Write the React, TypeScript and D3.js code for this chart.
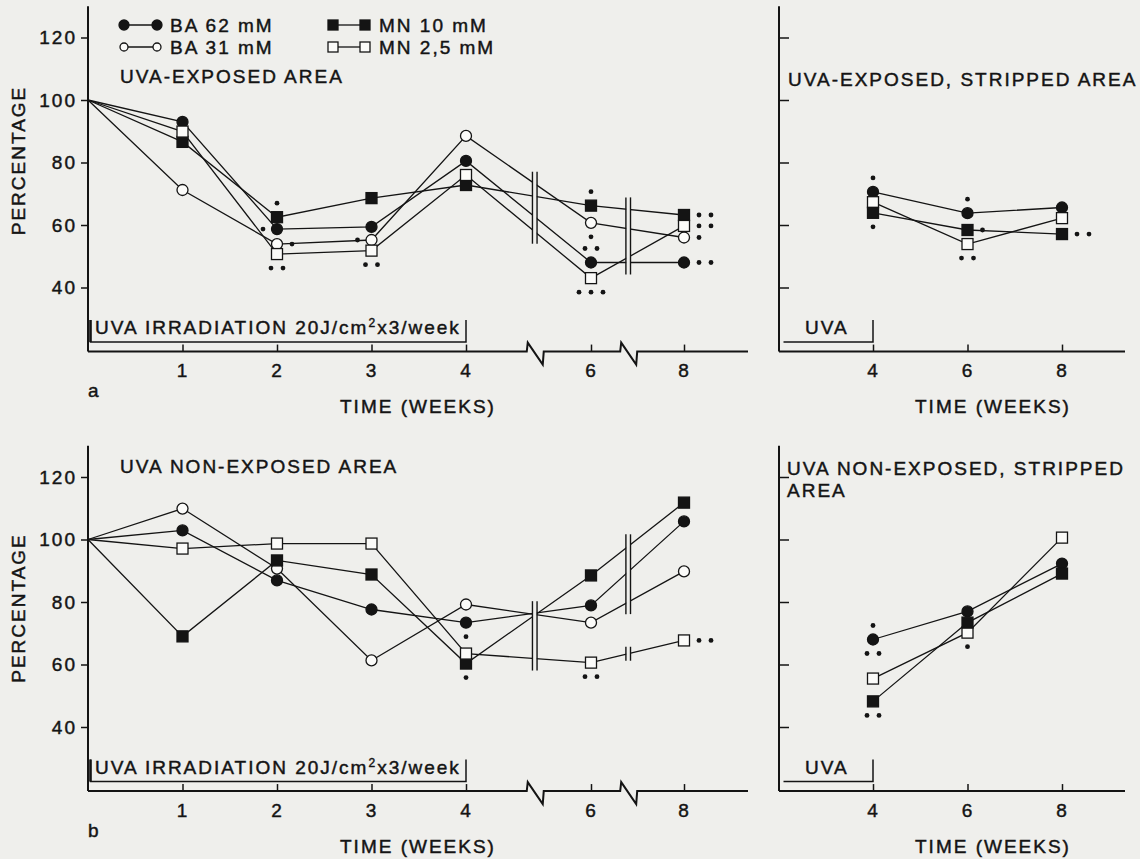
import { useRef, useEffect } from "react";
import * as d3 from "d3";

const weeks = [0, 1, 2, 3, 4, 6, 8];
const strippedWeeks = [4, 6, 8];
const yTicks = [40, 60, 80, 100, 120];
const xTicksLeft = [1, 2, 3, 4, 6, 8];
const xTicksRight = [4, 6, 8];
const axisBreaks = [5.1, 6.8];

const seriesNames = ["BA 62 mM", "BA 31 mM", "MN 10 mM", "MN 2,5 mM"];

// a: UVA-exposed area (% of value before exposure)
const ba62Exposed = [100, 93, 58.7, 59.4, 80.5, 48, 48];
const ba31Exposed = [100, 71.2, 53.9, 55.2, 88.5, 60.7, 56];
const mn10Exposed = [100, 86.6, 62.5, 68.6, 72.8, 66.2, 63.2];
const mn25Exposed = [100, 89.9, 50.7, 51.8, 76, 43, 59.7];

// a: UVA-exposed, stripped area (weeks 4, 6, 8)
const ba62ExposedStripped = [70.6, 63.8, 65.6];
const mn10ExposedStripped = [63.9, 58.4, 57.1];
const mn25ExposedStripped = [67.3, 53.9, 62.2];

// b: UVA non-exposed area
const ba62NonExposed = [100, 102.9, 86.9, 77.6, 73.4, 78.9, 105.8];
const ba31NonExposed = [100, 109.9, 90.7, 61.3, 79.2, 73.4, 89.8];
const mn10NonExposed = [100, 69, 93.3, 88.8, 60.3, 88.5, 111.8];
const mn25NonExposed = [100, 97.1, 98.7, 98.7, 63.5, 60.6, 67.7];

// b: UVA non-exposed, stripped area (weeks 4, 6, 8)
const ba62NonStripped = [68, 77, 92.3];
const mn10NonStripped = [48.2, 73.4, 89.1];
const mn25NonStripped = [55.5, 70.2, 100.6];

// significance: [series, week, number of asterisks, side]
const starsExposed = [
  ["MN 10 mM", 2, 1, "above"],
  ["BA 62 mM", 2, 1, "left"],
  ["BA 31 mM", 2, 1, "right"],
  ["MN 2,5 mM", 2, 2, "below"],
  ["BA 31 mM", 3, 1, "left"],
  ["MN 2,5 mM", 3, 2, "below"],
  ["MN 10 mM", 6, 1, "above"],
  ["BA 31 mM", 6, 1, "below"],
  ["BA 62 mM", 6, 2, "above"],
  ["MN 2,5 mM", 6, 3, "below"],
  ["MN 10 mM", 8, 2, "right"],
  ["MN 2,5 mM", 8, 2, "right"],
  ["BA 31 mM", 8, 1, "right"],
  ["BA 62 mM", 8, 2, "right"],
];
const starsExposedStripped = [
  ["BA 62 mM", 4, 1, "above"],
  ["MN 10 mM", 4, 1, "below"],
  ["BA 62 mM", 6, 1, "above"],
  ["MN 10 mM", 6, 1, "right"],
  ["MN 2,5 mM", 6, 2, "below"],
  ["MN 10 mM", 8, 2, "right"],
];
const starsNonExposed = [
  ["BA 62 mM", 4, 1, "below"],
  ["MN 10 mM", 4, 1, "below"],
  ["MN 2,5 mM", 6, 2, "below"],
  ["MN 2,5 mM", 8, 2, "right"],
];
const starsNonStripped = [
  ["BA 62 mM", 4, 1, "above"],
  ["BA 62 mM", 4, 2, "below"],
  ["MN 10 mM", 4, 2, "below"],
  ["MN 2,5 mM", 6, 1, "below"],
];

export default function App() {
  const ref = useRef<SVGSVGElement>(null);

  function init() {
    const svg = d3.select(ref.current);
    svg.selectAll("*").remove();

    const W = 1140,
      H = 859;
    const bg = "#efefec";
    const ink = "#141414";
    const font = "'Liberation Sans', Arial, Helvetica, sans-serif";
    const fs = 19;
    const ls = 2;

    svg.append("rect").attr("width", W).attr("height", H).attr("fill", bg);

    const xLeft = d3.scaleLinear().domain([0, 4, 6, 8]).range([88, 466, 591, 684]);
    const xRight = d3.scaleLinear().domain([4, 8]).range([873, 1062]);

    const marker = {
      "BA 62 mM": { shape: "circle", filled: true },
      "BA 31 mM": { shape: "circle", filled: false },
      "MN 10 mM": { shape: "square", filled: true },
      "MN 2,5 mM": { shape: "square", filled: false },
    };

    // printed-looking text: slight stroke to thicken the glyphs
    const inkText = (sel) =>
      sel
        .attr("font-family", font)
        .attr("font-size", fs)
        .attr("letter-spacing", ls)
        .attr("fill", ink)
        .attr("stroke", ink)
        .attr("stroke-width", 0.45);

    const text = (g, x, y, s, anchor = "start") =>
      g
        .append("text")
        .attr("x", x)
        .attr("y", y)
        .attr("text-anchor", anchor)
        .call(inkText)
        .text(s);

    const drawMarker = (g, name, cx, cy, size) => {
      const m = marker[name];
      const fill = m.filled ? ink : "#fbfbf9";
      if (m.shape === "circle") {
        g.append("circle")
          .attr("cx", cx)
          .attr("cy", cy)
          .attr("r", size / 2)
          .attr("fill", fill)
          .attr("stroke", ink)
          .attr("stroke-width", 1.3);
      } else {
        g.append("rect")
          .attr("x", cx - size / 2)
          .attr("y", cy - size / 2)
          .attr("width", size)
          .attr("height", size)
          .attr("fill", fill)
          .attr("stroke", ink)
          .attr("stroke-width", 1.3);
      }
    };

    const panels = [
      {
        off: 0,
        x: xLeft,
        xs: weeks,
        left: true,
        series: [
          ["BA 62 mM", ba62Exposed],
          ["BA 31 mM", ba31Exposed],
          ["MN 10 mM", mn10Exposed],
          ["MN 2,5 mM", mn25Exposed],
        ],
        stars: starsExposed,
        title: ["UVA-EXPOSED AREA"],
        titleX: 120,
        titleY: 83,
        labelY: 160.5,
        letter: "a",
        legend: true,
      },
      {
        off: 0,
        x: xRight,
        xs: strippedWeeks,
        left: false,
        series: [
          ["BA 62 mM", ba62ExposedStripped],
          ["MN 2,5 mM", mn25ExposedStripped],
          ["MN 10 mM", mn10ExposedStripped],
        ],
        stars: starsExposedStripped,
        title: ["UVA-EXPOSED, STRIPPED AREA"],
        titleX: 788,
        titleY: 86,
      },
      {
        off: 439.5,
        x: xLeft,
        xs: weeks,
        left: true,
        series: [
          ["BA 62 mM", ba62NonExposed],
          ["BA 31 mM", ba31NonExposed],
          ["MN 10 mM", mn10NonExposed],
          ["MN 2,5 mM", mn25NonExposed],
        ],
        stars: starsNonExposed,
        title: ["UVA NON-EXPOSED AREA"],
        titleX: 120,
        titleY: 33.5,
        labelY: 168.5,
        letter: "b",
      },
      {
        off: 439.5,
        x: xRight,
        xs: strippedWeeks,
        left: false,
        series: [
          ["BA 62 mM", ba62NonStripped],
          ["MN 2,5 mM", mn25NonStripped],
          ["MN 10 mM", mn10NonStripped],
        ],
        stars: starsNonStripped,
        title: ["UVA NON-EXPOSED, STRIPPED", "AREA"],
        titleX: 787,
        titleY: 35.5,
      },
    ];

    panels.forEach((p) => {
      const g = svg.append("g").attr("transform", `translate(0, ${p.off})`);
      const x = p.x;
      const y = d3.scaleLinear().domain([20, 120]).range([350, 37.5]);
      const x0 = p.left ? x(0) : x(2) + 0.5;
      const axisY = y(19.5);
      const axisEnd = p.left ? 748 : 1125;

      // y axis
      g.append("line")
        .attr("x1", x0)
        .attr("x2", x0)
        .attr("y1", y(130))
        .attr("y2", axisY)
        .attr("stroke", ink)
        .attr("stroke-width", 2);
      const yAxis = p.left
        ? d3.axisLeft(y).tickValues(yTicks).tickSize(7).tickPadding(4)
        : d3.axisRight(y).tickValues(yTicks).tickSize(10).tickFormat(() => "");
      const ya = g.append("g").attr("transform", `translate(${x0},0)`).call(yAxis);
      ya.select(".domain").remove();
      ya.selectAll("line").attr("stroke", ink).attr("stroke-width", 1.5);
      ya.selectAll("text").call(inkText);

      // x axis with zigzag breaks
      const xAxis = d3
        .axisBottom(x)
        .tickValues(p.left ? xTicksLeft : xTicksRight)
        .tickFormat(d3.format("d"))
        .tickSize(-7)
        .tickPadding(12);
      const xa = g.append("g").attr("transform", `translate(0,${axisY})`).call(xAxis);
      xa.select(".domain").remove();
      xa.selectAll("line").attr("stroke", ink).attr("stroke-width", 1.5);
      xa.selectAll("text").call(inkText);

      const axisPts = [[x0, axisY]];
      if (p.left) {
        axisBreaks.forEach((b) => {
          const bx = x(b);
          axisPts.push([bx - 8, axisY], [bx - 7, axisY - 9], [bx + 8, axisY + 13], [bx + 9, axisY]);
        });
      }
      axisPts.push([axisEnd, axisY]);
      g.append("path")
        .attr("d", d3.line()(axisPts))
        .attr("fill", "none")
        .attr("stroke", ink)
        .attr("stroke-width", 2);

      // series lines
      const line = d3
        .line()
        .x((d, i) => x(p.xs[i]))
        .y((d) => y(d));
      p.series.forEach(([name, vals]) => {
        g.append("path")
          .datum(vals)
          .attr("d", line)
          .attr("fill", "none")
          .attr("stroke", ink)
          .attr("stroke-width", 1.3);
      });

      // break marks across the lines
      if (p.left) {
        axisBreaks.forEach((b) => {
          const bx = x(b);
          const ys = p.series
            .map(([, vals]) => {
              const i = d3.bisectRight(p.xs, b) - 1;
              const t = (b - p.xs[i]) / (p.xs[i + 1] - p.xs[i]);
              return y(vals[i] + (vals[i + 1] - vals[i]) * t);
            })
            .sort((a, c) => a - c);
          const groups = [[ys[0]]];
          for (let k = 1; k < ys.length; k++) {
            if (ys[k] - ys[k - 1] > 48) groups.push([ys[k]]);
            else groups[groups.length - 1].push(ys[k]);
          }
          groups.forEach((gr) => {
            const pad = gr.length > 1 ? 12 : 7;
            const top = gr[0] - pad,
              bot = gr[gr.length - 1] + pad;
            g.append("rect")
              .attr("x", bx - 2)
              .attr("y", top)
              .attr("width", 4)
              .attr("height", bot - top)
              .attr("fill", bg);
            [-2.3, 2.3].forEach((dx) =>
              g
                .append("line")
                .attr("x1", bx + dx)
                .attr("x2", bx + dx)
                .attr("y1", top)
                .attr("y2", bot)
                .attr("stroke", ink)
                .attr("stroke-width", 1.4)
            );
          });
        });
      }

      // markers
      p.series.forEach(([name, vals]) => {
        vals.forEach((v, i) => {
          if (p.xs[i] === 0) return;
          drawMarker(g, name, x(p.xs[i]), y(v), 11);
        });
      });

      // asterisks
      p.stars.forEach(([name, wk, n, side]) => {
        const vals = p.series.find((s) => s[0] === name)[1];
        const px = x(wk),
          py = y(vals[p.xs.indexOf(wk)]);
        const gap = 12;
        for (let k = 0; k < n; k++) {
          let cx = px,
            cy = py;
          if (side === "above" || side === "below") {
            cx = px + (k - (n - 1) / 2) * gap;
            cy = py + (side === "above" ? -14 : 14);
          } else if (side === "right") {
            cx = px + 15 + k * gap;
          } else {
            cx = px - 14 - k * gap;
          }
          g.append("circle").attr("cx", cx).attr("cy", cy).attr("r", 2.4).attr("fill", ink);
        }
      });

      // titles
      p.title.forEach((t, i) => text(g, p.titleX, p.titleY + i * 22, t));

      // irradiation bracket
      const bTop = 320,
        bBot = 342;
      const bx1 = x(4);
      const bx0 = p.left ? x(0) + 2.5 : x(2) + 5;
      g.append("path")
        .attr(
          "d",
          d3.line()(
            p.left
              ? [[bx0, bTop], [bx0, bBot], [bx1, bBot], [bx1, bTop]]
              : [[bx0, bBot], [bx1, bBot], [bx1, bTop]]
          )
        )
        .attr("fill", "none")
        .attr("stroke", ink)
        .attr("stroke-width", 1.5);
      if (p.left) {
        g.append("line")
          .attr("x1", bx0)
          .attr("x2", bx0)
          .attr("y1", bTop)
          .attr("y2", bBot)
          .attr("stroke", ink)
          .attr("stroke-width", 2.5);
        const t = text(g, 95, 334, "UVA IRRADIATION 20J/cm");
        t.append("tspan").attr("font-size", 12).attr("dy", -7).text("2");
        t.append("tspan").attr("font-size", fs).attr("dy", 7).text("x3/week");
      } else {
        text(g, 805, 334, "UVA");
      }

      // axis titles
      text(g, p.left ? 340 : 915, 413, "TIME (WEEKS)");
      if (p.left) {
        text(g, 0, 0, "PERCENTAGE", "middle").attr(
          "transform",
          `translate(25,${p.labelY}) rotate(-90)`
        );
        text(g, 88, 397, p.letter).attr("letter-spacing", 0);
      }

      // legend
      if (p.legend) {
        const cols = [124, 333];
        seriesNames.forEach((name, i) => {
          const cx = cols[Math.floor(i / 2)];
          const cy = 25 + (i % 2) * 22;
          const m = marker[name];
          const size = m.shape === "circle" ? (m.filled ? 10 : 8) : 10;
          const w = m.shape === "circle" ? 33 : 32;
          g.append("line")
            .attr("x1", cx)
            .attr("x2", cx + w)
            .attr("y1", cy)
            .attr("y2", cy)
            .attr("stroke", ink)
            .attr("stroke-width", 1.3);
          drawMarker(g, name, cx, cy, size);
          drawMarker(g, name, cx + w, cy, size);
          text(g, cx + 46, cy + 6.5, name);
        });
      }
    });
  }

  useEffect(init, []);

  return (
    <div style={{ position: "absolute", left: 0, top: 0 }}>
      <svg ref={ref} width={1140} height={859} style={{ display: "block" }}></svg>
    </div>
  );
}
